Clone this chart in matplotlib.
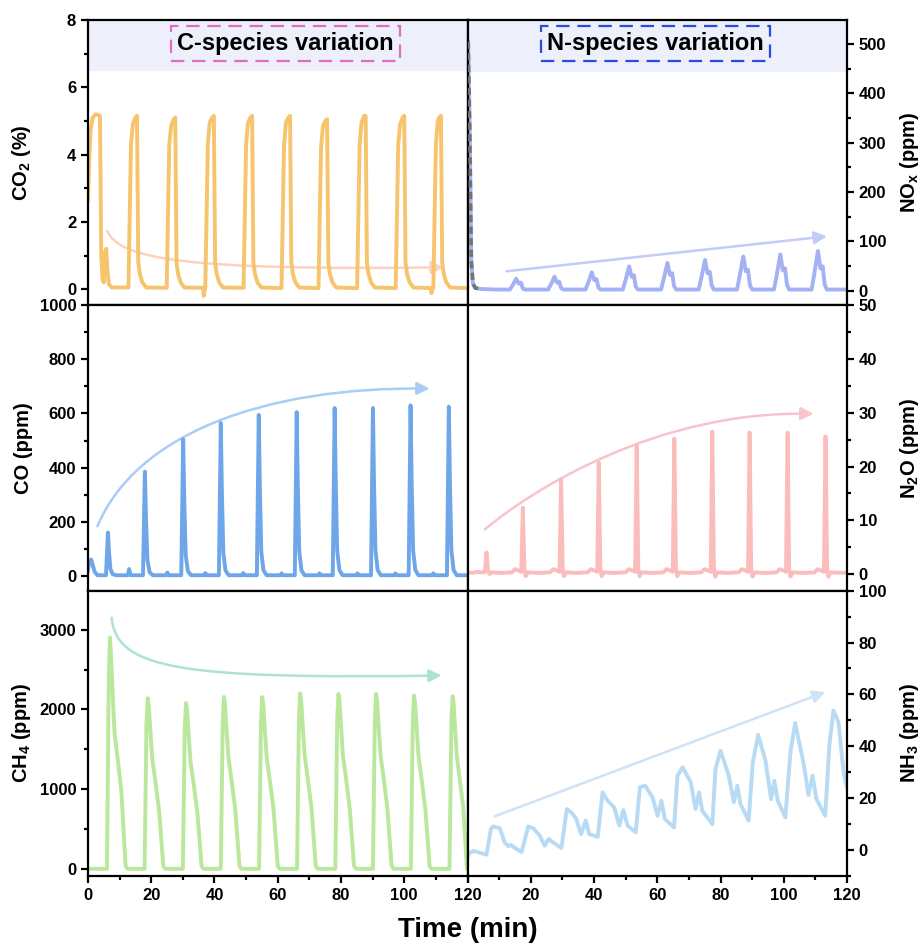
import numpy as np
import matplotlib
matplotlib.use('Agg')
from matplotlib import pyplot as plt
from matplotlib.path import Path
from matplotlib.patches import FancyArrowPatch
from matplotlib.ticker import MultipleLocator, AutoMinorLocator

plt.rcParams['font.family'] = ['Liberation Sans', 'DejaVu Sans']
plt.rcParams['font.weight'] = 'bold'
plt.rcParams['axes.labelweight'] = 'bold'
plt.rcParams['mathtext.fontset'] = 'custom'
plt.rcParams['mathtext.rm'] = 'Liberation Sans:bold'
plt.rcParams['mathtext.default'] = 'rm'
plt.rcParams['axes.linewidth'] = 1.6

# ---- data: (time [min], value) ----
co2 = [(0, 2.65), (0.3, 3.6), (0.8, 4.7), (1.5, 5.1), (2.5, 5.2), (3.8, 5.15), (4.2, 1.0), (4.6, 0.3), (5.0, 0.2),
       (5.4, 1.1), (5.8, 1.2), (6.1, 0.6), (6.6, 0.15), (7.5, 0.05), (12.8, 0.05),
       (13.2, 2.2), (13.6, 4.3), (14.2, 4.9), (15.0, 5.1), (15.5, 5.15), (15.9, 0.8), (16.4, 0.45), (17.2, 0.2), (18.4, 0.05), (24.9, 0.04),
       (25.3, 2.2), (25.7, 4.3), (26.3, 4.85), (27.1, 5.05), (27.6, 5.1), (28.0, 0.8), (28.5, 0.45), (29.3, 0.2), (30.5, 0.05),
       (36.4, 0.04), (36.6, -0.2), (36.9, 0.0), (37.1, 0.05),
       (37.5, 2.2), (37.9, 4.3), (38.5, 4.95), (39.3, 5.1), (39.8, 5.15), (40.2, 0.8), (40.7, 0.45), (41.5, 0.2), (42.7, 0.05), (49.2, 0.04),
       (49.6, 2.2), (50.0, 4.3), (50.6, 4.95), (51.4, 5.1), (51.9, 5.15), (52.3, 0.8), (52.8, 0.45), (53.6, 0.2), (54.8, 0.05), (61.2, 0.03),
       (61.6, 2.2), (62.0, 4.3), (62.6, 4.95), (63.4, 5.1), (63.9, 5.15), (64.3, 0.8), (64.8, 0.45), (65.6, 0.2), (66.8, 0.05), (72.9, 0.03),
       (73.3, 2.2), (73.7, 4.2), (74.3, 4.85), (75.1, 5.0), (75.6, 5.05), (76.0, 0.8), (76.5, 0.45), (77.3, 0.2), (78.5, 0.05), (85.1, 0.03),
       (85.5, 2.2), (85.9, 4.3), (86.5, 4.95), (87.3, 5.15), (87.8, 5.15), (88.2, 0.8), (88.7, 0.45), (89.5, 0.2), (90.7, 0.05), (97.3, 0.03),
       (97.7, 2.2), (98.1, 4.3), (98.7, 4.9), (99.5, 5.1), (100.0, 5.15), (100.4, 0.8), (100.9, 0.45), (101.7, 0.2), (102.9, 0.05),
       (108.4, 0.03), (108.6, -0.12), (108.9, 0.0), (109.2, 0.04),
       (109.6, 2.2), (110.0, 4.3), (110.6, 5.0), (111.0, 5.1), (111.6, 5.15), (112.0, 0.8), (112.5, 0.45), (113.3, 0.2), (114.5, 0.05), (120, 0.03)]

co = [(0, 20), (0.5, 55), (1.0, 60), (1.5, 40), (2.1, 15), (3.0, 2), (5.7, 2),
      (6.3, 160), (6.65, 90), (7.1, 25), (7.8, 6), (8.8, 2), (12.6, 2), (13.0, 25), (13.5, 2),
      (17.4, 2), (18.0, 385), (18.35, 210), (18.8, 58), (19.5, 13), (20.5, 2), (24.7, 2), (25.1, 12), (25.6, 2),
      (29.5, 2), (30.1, 505), (30.45, 280), (30.9, 76), (31.6, 17), (32.6, 2), (36.7, 2), (37.1, 10), (37.6, 2),
      (41.4, 2), (42.0, 565), (42.35, 310), (42.8, 85), (43.5, 19), (44.5, 2), (48.7, 2), (49.1, 10), (49.6, 2),
      (53.4, 2), (54.0, 595), (54.35, 327), (54.8, 89), (55.5, 20), (56.5, 2), (60.8, 2), (61.2, 9), (61.7, 2),
      (65.4, 2), (66.0, 605), (66.35, 333), (66.8, 91), (67.5, 20), (68.5, 2), (72.8, 2), (73.2, 9), (73.7, 2),
      (77.4, 2), (78.0, 620), (78.35, 341), (78.8, 93), (79.5, 21), (80.5, 2), (84.8, 2), (85.2, 9), (85.7, 2),
      (89.5, 2), (90.1, 620), (90.45, 341), (90.9, 93), (91.6, 21), (92.6, 2), (96.8, 2), (97.2, 9), (97.7, 2),
      (101.4, 2), (102.0, 630), (102.35, 347), (102.8, 95), (103.5, 21), (104.5, 2), (108.8, 2), (109.2, 9), (109.7, 2),
      (113.5, 2), (114.1, 625), (114.45, 344), (114.9, 94), (115.6, 21), (116.6, 2), (120, 2)]

ch4 = [(0, 0), (6.0, 0), (6.6, 2460), (7.0, 2900), (7.3, 2650), (8.4, 1700), (9.5, 1350), (10.6, 950), (11.9, 40), (12.5, 0),
       (17.9, 0), (18.5, 1820), (18.9, 2140), (19.2, 2055), (20.3, 1390), (21.4, 1070), (22.5, 728), (23.8, 40), (24.4, 0),
       (30.0, 0), (30.6, 1770), (31.0, 2080), (31.3, 2000), (32.4, 1350), (33.5, 1040), (34.6, 707), (35.9, 40), (36.5, 0),
       (42.0, 0), (42.6, 1830), (43.0, 2155), (43.3, 2070), (44.4, 1400), (45.5, 1080), (46.6, 733), (47.9, 40), (48.5, 0),
       (54.1, 0), (54.7, 1830), (55.1, 2155), (55.4, 2070), (56.5, 1400), (57.6, 1080), (58.7, 733), (60.0, 40), (60.6, 0),
       (66.1, 0), (66.7, 1870), (67.1, 2200), (67.4, 2110), (68.5, 1430), (69.6, 1100), (70.7, 748), (72.0, 40), (72.6, 0),
       (78.2, 0), (78.8, 1865), (79.2, 2195), (79.5, 2105), (80.6, 1425), (81.7, 1100), (82.8, 746), (84.1, 40), (84.7, 0),
       (90.1, 0), (90.7, 1865), (91.1, 2195), (91.4, 2105), (92.5, 1425), (93.6, 1100), (94.7, 746), (96.0, 40), (96.6, 0),
       (102.1, 0), (102.7, 1850), (103.1, 2175), (103.4, 2090), (104.5, 1415), (105.6, 1090), (106.7, 740), (108.0, 40), (108.6, 0),
       (114.3, 0), (114.9, 1840), (115.3, 2165), (115.6, 2080), (116.6, 1420), (117.6, 1100), (118.7, 760), (119.8, 0), (120, 0)]

nox = [(0.2, 505), (0.7, 330), (1.2, 60), (1.7, 14), (2.5, 5), (4.4, 3), (9.0, 2),
       (13.4, 2), (14.4, 12), (15.4, 24), (16.2, 14), (16.9, 16), (17.5, 4), (18.2, 2),
       (25.5, 2), (26.5, 14), (27.5, 28), (28.3, 16), (29.0, 18), (29.6, 5), (30.3, 2),
       (37.3, 2), (38.3, 18), (39.3, 37), (40.1, 21), (40.8, 23), (41.4, 6), (42.1, 2),
       (49.1, 2), (50.1, 24), (51.1, 49), (51.9, 28), (52.6, 31), (53.2, 8), (53.9, 2),
       (61.2, 2), (62.2, 28), (63.2, 56), (64.0, 32), (64.7, 35), (65.3, 9), (66.0, 2),
       (73.1, 2), (74.1, 31), (75.1, 62), (75.9, 35), (76.6, 38), (77.2, 10), (77.9, 2),
       (85.2, 2), (86.2, 34), (87.2, 69), (88.0, 39), (88.7, 42), (89.3, 11), (90.0, 2),
       (96.9, 2), (97.9, 36), (98.9, 73), (99.7, 41), (100.4, 45), (101.0, 12), (101.7, 2),
       (108.8, 2), (109.8, 40), (110.8, 80), (111.6, 45), (112.3, 49), (112.9, 13), (113.6, 2), (120, 2)]
nox_purge_pts = 6  # first points of NOx are the initial purge (gray dashed)

n2o = [(0, 0.3), (1.5, 0.2), (3.0, 0.4), (4.5, 0.3), (5.5, 0.4), (6.0, 4.0), (6.5, 0.6), (7.0, 0.0), (7.6, 0.3), (11.0, 0.2),
       (14.0, 0.3), (15.0, 0.9), (16.3, 0.6), (17.0, 0.4), (17.5, 12.3), (18.0, 1.0), (18.4, -0.4), (19.1, 0.3), (22.5, 0.2),
       (26.1, 0.3), (27.1, 0.9), (28.4, 0.6), (29.1, 0.4), (29.6, 17.7), (30.1, 1.0), (30.5, -0.4), (31.2, 0.3), (34.5, 0.2),
       (38.0, 0.3), (39.0, 0.9), (40.3, 0.6), (41.0, 0.4), (41.5, 20.7), (42.0, 1.0), (42.4, -0.4), (43.1, 0.3), (46.5, 0.2),
       (50.0, 0.3), (51.0, 0.9), (52.3, 0.6), (53.0, 0.4), (53.5, 23.9), (54.0, 1.0), (54.4, -0.4), (55.1, 0.3), (58.4, 0.2),
       (61.9, 0.3), (62.9, 0.9), (64.2, 0.6), (64.9, 0.4), (65.4, 25.2), (65.9, 1.0), (66.3, -0.4), (67.0, 0.3), (70.4, 0.2),
       (73.9, 0.3), (74.9, 0.9), (76.2, 0.6), (76.9, 0.4), (77.4, 26.5), (77.9, 1.0), (78.3, -0.5), (79.0, 0.3), (82.2, 0.2),
       (85.7, 0.3), (86.7, 0.9), (88.0, 0.6), (88.7, 0.4), (89.2, 26.3), (89.7, 1.0), (90.1, -0.5), (90.8, 0.3), (94.2, 0.2),
       (97.7, 0.3), (98.7, 0.9), (100.0, 0.6), (100.7, 0.4), (101.2, 26.3), (101.7, 1.0), (102.1, -0.5), (102.8, 0.3), (106.2, 0.2),
       (109.7, 0.3), (110.7, 0.9), (112.0, 0.6), (112.7, 0.4), (113.2, 25.6), (113.7, 1.0), (114.1, -0.5), (114.8, 0.3), (120, 0.2)]

nh3 = [(0, -3.0), (0.4, -1.5), (1.8, -0.3), (4.4, -1.2), (6.0, -1.8), (7.4, 8.1), (8.1, 9.1), (10.2, 8.4), (11.8, 2.8),
       (12.9, 1.5), (13.7, 2.0), (15.0, 0.8), (17.1, -0.8),
       (19.2, 9.1), (20.8, 8.4), (22.9, 5.5), (24.4, 1.7), (25.7, 4.3), (27.0, 3.0), (29.7, 0.8),
       (31.4, 15.8), (32.8, 14.5), (34.3, 12.2), (35.9, 6.1), (37.4, 11.4), (38.5, 6.1), (41.2, 5.1),
       (42.7, 22.2), (44.3, 19.0), (46.4, 16.4), (48.0, 9.4), (49.3, 15.4), (50.6, 9.4), (53.2, 6.8),
       (54.5, 24.2), (56.2, 24.8), (58.5, 20.3), (60.1, 13.2), (61.3, 19.0), (62.4, 12.0), (65.3, 8.7),
       (66.4, 28.7), (68.0, 31.9), (70.6, 26.1), (72.1, 15.8), (73.2, 22.2), (74.2, 15.2), (77.4, 10.0),
       (78.4, 31.2), (80.0, 38.3), (82.6, 28.7), (84.2, 18.4), (85.3, 24.8), (86.3, 17.7), (88.9, 11.3),
       (90.2, 33.8), (91.9, 44.4), (94.2, 34.5), (96.0, 19.6), (97.0, 26.7), (98.1, 19.0), (100.5, 12.6),
       (102.1, 37.7), (103.6, 49.0), (106.3, 33.2), (107.8, 21.2), (109.1, 28.7), (110.3, 19.7), (113.1, 13.2),
       (114.4, 40.2), (115.7, 53.8), (117.3, 49.3), (118.9, 30.0), (120.0, 24.0)]

# trend arrows (bezier control points / straight segments)
co2_arrow = [(6.1, 1.73), (10, 0.9), (30, 0.55), (112.5, 0.65)]
co_arrow = [(3, 183), (15, 520), (55, 700), (108, 692)]
ch4_arrow = [(7.5, 3149), (9, 2500), (30, 2380), (111.8, 2425)]
nox_arrow = [(12.3, 39), (113.6, 110)]
n2o_arrow = [(5.5, 8.3), (20, 15.5), (60, 30.5), (109.4, 29.8)]
nh3_arrow = [(8.6, 13), (113.1, 60.9)]

time_ticks = [0, 20, 40, 60, 80, 100, 120]


def add_arrow(ax, pts, color):
    if len(pts) == 4:
        codes = [Path.MOVETO, Path.CURVE4, Path.CURVE4, Path.CURVE4]
    else:
        codes = [Path.MOVETO, Path.LINETO]
    arr = FancyArrowPatch(path=Path(pts, codes), arrowstyle='-|>,head_length=0.75,head_width=0.38',
                          mutation_scale=10, color=color, lw=1.8, transform=ax.transData, zorder=1.5)
    ax.add_patch(arr)


panels = [
    dict(r=0, c=0, data=co2, color='#f6c46c', ylim=(-0.48, 8), major=2, label='CO$_2$ (%)',
         arrow=co2_arrow, acolor='#fcd2bd'),
    dict(r=1, c=0, data=co, color='#6fa6ea', ylim=(-55, 1000), major=200, label='CO (ppm)',
         arrow=co_arrow, acolor='#a9cdf5'),
    dict(r=2, c=0, data=ch4, color='#b9e89c', ylim=(-90, 3490), major=1000, label='CH$_4$ (ppm)',
         arrow=ch4_arrow, acolor='#ade2d2'),
    dict(r=0, c=1, data=nox, color='#a4b1f2', ylim=(-30, 549), major=100, label='NO$_x$ (ppm)',
         arrow=nox_arrow, acolor='#c3cbf8'),
    dict(r=1, c=1, data=n2o, color='#fbbcbc', ylim=(-3.1, 50), major=10, label='N$_2$O (ppm)',
         arrow=n2o_arrow, acolor='#f9c3cd'),
    dict(r=2, c=1, data=nh3, color='#b8dbf5', ylim=(-10, 100), major=20, label='NH$_3$ (ppm)',
         arrow=nh3_arrow, acolor='#cfe3f8'),
]

fig = plt.figure(figsize=(9.22, 9.47), dpi=100)
gs = fig.add_gridspec(3, 2, left=0.0954, right=0.9187, top=0.9789, bottom=0.075, hspace=0, wspace=0)

for p in panels:
    ax = fig.add_subplot(gs[p['r'], p['c']])
    d = np.array(p['data'])
    ax.plot(d[:, 0], d[:, 1], color=p['color'], lw=2.8, solid_joinstyle='round', zorder=2)
    add_arrow(ax, p['arrow'], p['acolor'])

    ax.set_xlim(0, 120)
    ax.set_ylim(*p['ylim'])
    ax.yaxis.set_major_locator(MultipleLocator(p['major']))
    ax.yaxis.set_minor_locator(AutoMinorLocator(2))
    ax.xaxis.set_major_locator(MultipleLocator(20))
    ax.xaxis.set_minor_locator(AutoMinorLocator(2))
    ax.tick_params(which='both', direction='out', width=1.6, labelsize=12, top=False)
    ax.tick_params(which='major', length=5)
    ax.tick_params(which='minor', length=3)

    if p['r'] < 2:
        ax.tick_params(which='both', bottom=False, labelbottom=False)
    else:
        ax.set_xticks(time_ticks)
        if p['c'] == 1:
            ax.set_xticklabels([''] + [str(t) for t in time_ticks[1:]])

    if p['c'] == 0:
        ax.tick_params(which='both', right=False)
        ax.set_ylabel(p['label'], fontsize=14.5)
        ax.yaxis.set_label_coords(-0.145, 0.5)
    else:
        ax.yaxis.tick_right()
        ax.yaxis.set_label_position('right')
        ax.tick_params(which='both', left=False)
        ax.set_ylabel(p['label'], fontsize=14.5)
        ax.yaxis.set_label_coords(1.135, 0.5)

    if p['r'] == 0:
        if p['c'] == 0:
            ax.axhspan(6.5, 8, color='#edf0fb', zorder=0)
            ax.text(0.52, 0.918, 'C-species variation', transform=ax.transAxes, ha='center', va='center',
                    fontsize=17, zorder=5,
                    bbox=dict(boxstyle='square,pad=0.25', fc='none', ec='#e06cbf', lw=1.6, ls=(0, (6, 3.5))))
        else:
            ax.axhspan(445, 549, color='#edf0fb', zorder=0)
            ax.plot(d[:nox_purge_pts, 0], d[:nox_purge_pts, 1], color='#737373', lw=2.6, ls=(0, (2, 1.2)), zorder=3)
            ax.text(0.496, 0.918, 'N-species variation', transform=ax.transAxes, ha='center', va='center',
                    fontsize=17, zorder=5,
                    bbox=dict(boxstyle='square,pad=0.25', fc='none', ec='#2b4be0', lw=1.6, ls=(0, (6, 3.5))))

fig.text(0.507, 0.018, 'Time (min)', ha='center', va='center', fontsize=20, fontweight='bold')

plt.savefig('out.png', dpi=100)
